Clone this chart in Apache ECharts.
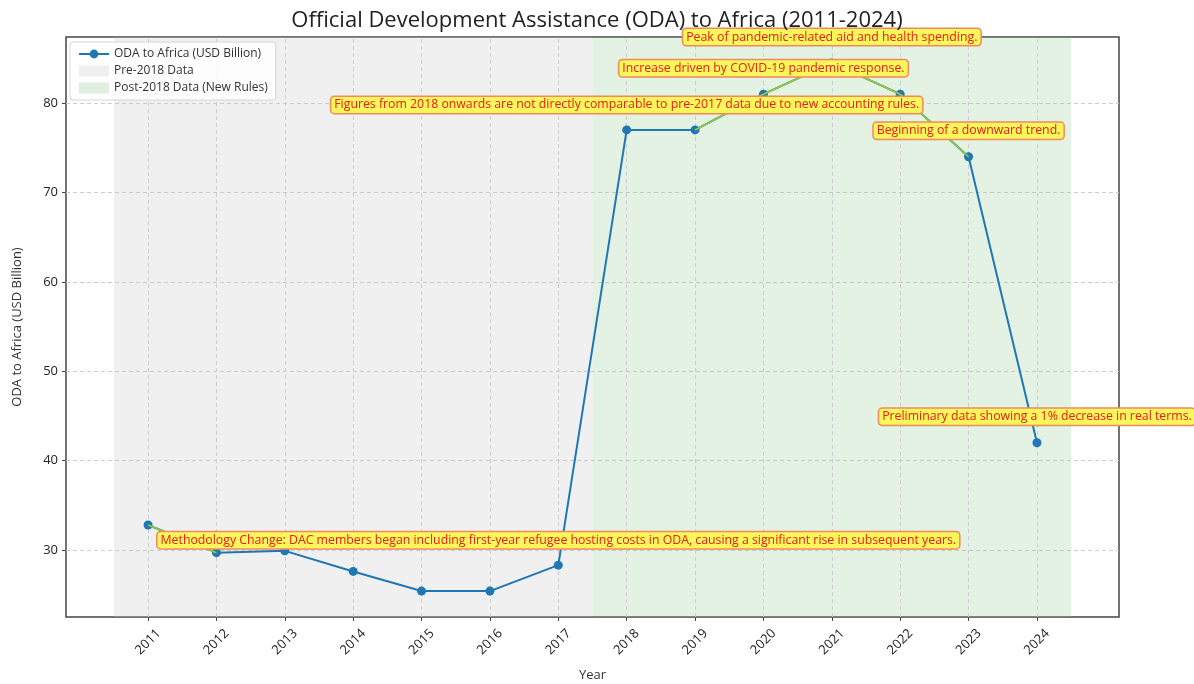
<!DOCTYPE html>
<html>
<head>
<meta charset="utf-8">
<script src="https://cdn.jsdelivr.net/npm/echarts@6/dist/echarts.min.js"></script>
<style>
html,body{margin:0;padding:0;background:#fff;}
#chart{width:1194px;height:684px;}
</style>
</head>
<body>
<div id="chart"></div>
<script>
// data
var years = [2011, 2012, 2013, 2014, 2015, 2016, 2017, 2018, 2019, 2020, 2021, 2022, 2023, 2024];
var oda = [32.8, 29.7, 29.9, 27.6, 25.4, 25.4, 28.3, 77, 77, 81, 84.5, 81, 74, 42];
var yTicks = [30, 40, 50, 60, 70, 80];

// annotation texts and where their boxes sit (data units)
var noteText = [
	'Methodology Change: DAC members began including first-year refugee hosting costs in ODA, causing a significant rise in subsequent years.',
	'Figures from 2018 onwards are not directly comparable to pre-2017 data due to new accounting rules.',
	'Increase driven by COVID-19 pandemic response.',
	'Peak of pandemic-related aid and health spending.',
	'Beginning of a downward trend.',
	'Preliminary data showing a 1% decrease in real terms.'
];
var noteX = [2017, 2018, 2020, 2021, 2023, 2024];
var noteY = [31.1, 79.8, 83.9, 87.4, 76.9, 44.9];
// arrow segments drawn between points (index pairs)
var arrowPairs = [[0, 1], [8, 9], [9, 10], [10, 11], [11, 12]];

var preSpan = [2010.5, 2017.5];
var postSpan = [2017.5, 2024.5];

var font = '"Open Sans", Roboto, sans-serif';
var myChart = echarts.init(document.getElementById('chart'));

var lineData = [];
for (var i = 0; i < years.length; i++) {
	lineData.push([years[i], oda[i]]);
}
var notes = [];
for (var i = 0; i < noteText.length; i++) {
	notes.push({ coord: [noteX[i], noteY[i]], value: noteText[i] });
}
var arrows = [];
for (var i = 0; i < arrowPairs.length; i++) {
	var a = arrowPairs[i][0], b = arrowPairs[i][1];
	arrows.push([{ coord: [years[a], oda[a]] }, { coord: [years[b], oda[b]] }]);
}
// vertical grid lines at each year
var vGrid = [];
for (var i = 0; i < years.length; i++) {
	vGrid.push({ xAxis: years[i] });
}

var gridLine = { color: '#cdcdcd', type: [4, 3], width: 1 };

var option = {
	animation: false,
	textStyle: { fontFamily: font },
	title: {
		text: 'Official Development Assistance (ODA) to Africa (2011-2024)',
		left: 'center',
		top: 5,
		textStyle: { fontFamily: font, fontSize: 22, fontWeight: 'normal', color: '#222' }
	},
	legend: {
		orient: 'vertical',
		left: 70,
		top: 42,
		itemGap: 5,
		itemWidth: 30,
		itemHeight: 11,
		padding: [6, 8],
		backgroundColor: 'rgba(255,255,255,0.85)',
		borderColor: '#d6d6d6',
		borderWidth: 1,
		borderRadius: 3,
		textStyle: { fontFamily: font, fontSize: 12, color: '#333' },
		data: [
			{ name: 'ODA to Africa (USD Billion)' },
			{ name: 'Pre-2018 Data', icon: 'rect', itemStyle: { color: '#efefef' } },
			{ name: 'Post-2018 Data (New Rules)', icon: 'rect', itemStyle: { color: '#e0efdf' } }
		]
	},
	grid: {
		left: 66, right: 75, top: 37, bottom: 67,
		outerBoundsMode: 'none',
		containLabel: false,
		show: true, borderColor: '#444', borderWidth: 1.5, backgroundColor: 'transparent'
	},
	xAxis: {
		type: 'value',
		min: 2009.8,
		max: 2025.2,
		name: 'Year',
		nameLocation: 'middle',
		nameGap: 52,
		nameTextStyle: { fontSize: 13, color: '#333' },
		axisLine: { show: false },
		axisTick: { show: true, customValues: years, length: 4, lineStyle: { color: '#444' } },
		axisLabel: {
			customValues: years,
			rotate: 45,
			align: 'center',
			verticalAlign: 'middle',
			margin: 25,
			fontSize: 13,
			color: '#222',
			formatter: function (v) { return String(v); }
		},
		splitLine: { show: false }
	},
	yAxis: {
		type: 'value',
		min: 22.5,
		max: 87.4,
		name: 'ODA to Africa (USD Billion)',
		nameLocation: 'middle',
		nameGap: 42,
		nameTextStyle: { fontSize: 13, color: '#333' },
		axisLine: { show: false },
		axisTick: { show: true, customValues: yTicks, length: 4, lineStyle: { color: '#444' } },
		axisLabel: { customValues: yTicks, fontSize: 13, color: '#222', margin: 8 },
		splitLine: { show: true, lineStyle: gridLine }
	},
	series: [
		{
			name: 'Pre-2018 Data',
			type: 'line',
			data: [],
			z: 0,
			itemStyle: { color: '#efefef' },
			markArea: {
				silent: true,
				z: 0,
				itemStyle: { color: 'rgba(200,200,200,0.27)' },
				data: [[{ xAxis: preSpan[0] }, { xAxis: preSpan[1] }]]
			},
			markLine: {
				silent: true,
				z: 1,
				symbol: 'none',
				label: { show: false },
				lineStyle: gridLine,
				data: vGrid
			}
		},
		{
			name: 'Post-2018 Data (New Rules)',
			type: 'line',
			data: [],
			z: 0,
			itemStyle: { color: '#e0efdf' },
			markArea: {
				silent: true,
				z: 0,
				itemStyle: { color: 'rgba(140,200,140,0.24)' },
				data: [[{ xAxis: postSpan[0] }, { xAxis: postSpan[1] }]]
			}
		},
		{
			name: 'ODA to Africa (USD Billion)',
			type: 'line',
			data: lineData,
			z: 3,
			symbol: 'circle',
			symbolSize: 9,
			showSymbol: true,
			itemStyle: { color: '#1f77b4' },
			lineStyle: { color: '#1f77b4', width: 2 }
		},
		{
			name: 'notes',
			type: 'line',
			data: [],
			z: 5,
			markLine: {
				silent: true,
				z: 5,
				symbol: 'none',
				label: { show: false },
				lineStyle: { color: '#9acd32', width: 1.6, type: 'solid' },
				data: arrows
			},
			markPoint: {
				silent: true,
				z: 6,
				symbol: 'circle',
				symbolSize: 0,
				data: notes,
				label: {
					show: true,
					position: 'inside',
					formatter: function (p) { return p.value; },
					fontFamily: font,
					fontSize: 12.3,
					color: '#e8201a',
					backgroundColor: '#fbf65c',
					borderColor: '#f08a5d',
					borderWidth: 1.5,
					borderRadius: 3,
					padding: [2, 3]
				}
			}
		}
	]
};
myChart.setOption(option);
</script>
</body>
</html>
